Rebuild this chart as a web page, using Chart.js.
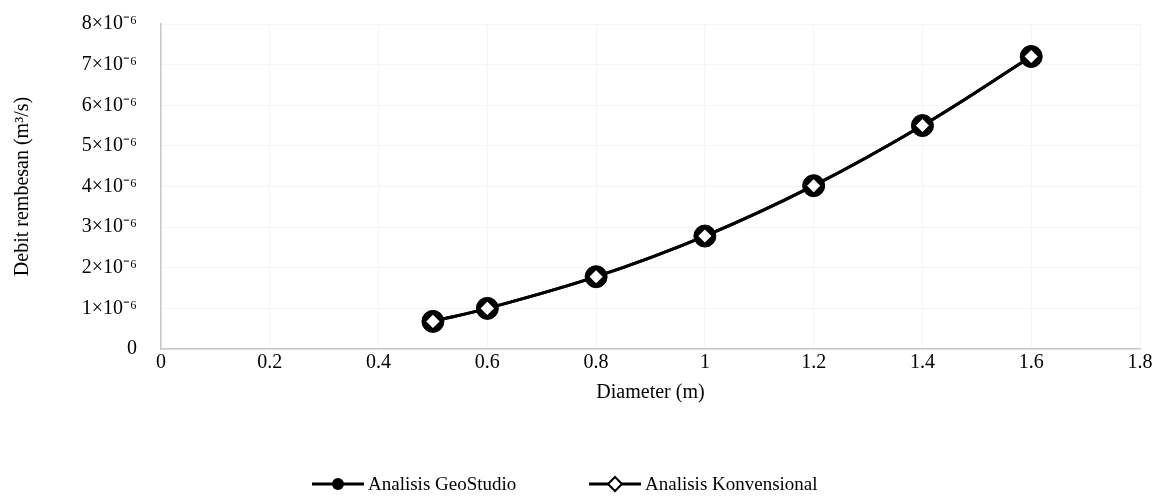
<!DOCTYPE html>
<html>
<head>
<meta charset="utf-8">
<script src="https://cdn.jsdelivr.net/npm/chart.js@4/dist/chart.umd.min.js"></script>
<style>
  html, body { margin: 0; padding: 0; background: #fff; }
  #wrap { width: 1156px; height: 497px; }
</style>
</head>
<body>
<div id="wrap"><canvas id="seepageChart" width="1156" height="497"></canvas></div>
<script>
// data
const diameters = [0.5, 0.6, 0.8, 1.0, 1.2, 1.4, 1.6];
const geoStudio = [0.68e-6, 1.0e-6, 1.78e-6, 2.78e-6, 4.02e-6, 5.5e-6, 7.2e-6];
const konvensional = [0.68e-6, 1.0e-6, 1.78e-6, 2.78e-6, 4.02e-6, 5.5e-6, 7.2e-6];
const seriesNames = ['Analisis GeoStudio', 'Analisis Konvensional'];
const yTickLabels = ['0', '1×10⁻⁶', '2×10⁻⁶', '3×10⁻⁶', '4×10⁻⁶', '5×10⁻⁶', '6×10⁻⁶', '7×10⁻⁶', '8×10⁻⁶'];

const fontFamily = '"Liberation Serif", "Times New Roman", serif';
const fontSize = 20;
const toPoints = (xs, ys) => xs.map((x, i) => ({ x: x, y: ys[i] }));

// legend: line + marker + text, like the spreadsheet one
const lineLegend = {
    id: 'lineLegend',
    afterDraw(chart) {
        const c = chart.ctx;
        const y = 484;
        const items = [
            { x: 312, ds: chart.data.datasets[0] },
            { x: 589, ds: chart.data.datasets[1] }
        ];
        c.save();
        c.font = (fontSize - 1) + 'px ' + fontFamily;
        c.textBaseline = 'middle';
        items.forEach(it => {
            c.strokeStyle = '#000';
            c.lineWidth = 3;
            c.beginPath();
            c.moveTo(it.x, y);
            c.lineTo(it.x + 52, y);
            c.stroke();
            const mx = it.x + 26;
            if (it.ds.pointStyle === 'rectRot') {
                c.fillStyle = '#fff';
                c.lineWidth = 2;
                c.beginPath();
                c.moveTo(mx, y - 7);
                c.lineTo(mx + 7, y);
                c.lineTo(mx, y + 7);
                c.lineTo(mx - 7, y);
                c.closePath();
                c.fill();
                c.stroke();
            } else {
                c.fillStyle = '#000';
                c.beginPath();
                c.arc(mx, y, 6, 0, Math.PI * 2);
                c.fill();
            }
            c.fillStyle = '#000';
            c.textAlign = 'left';
            c.fillText(it.ds.label, it.x + 56, y + 1);
        });
        c.restore();
    }
};

const ctx = document.getElementById('seepageChart').getContext('2d');
const seepageChart = new Chart(ctx, {
    type: 'scatter',
    data: {
        datasets: [{
            label: seriesNames[0],
            data: toPoints(diameters, geoStudio),
            showLine: true,
            borderColor: '#000',
            borderWidth: 3,
            tension: 0.4,
            pointStyle: 'circle',
            pointRadius: 11,
            pointBackgroundColor: '#000',
            pointBorderColor: '#000',
            pointBorderWidth: 1,
            order: 1
        }, {
            label: seriesNames[1],
            data: toPoints(diameters, konvensional),
            showLine: true,
            borderColor: '#000',
            borderWidth: 3,
            tension: 0.4,
            pointStyle: 'rectRot',
            pointRadius: 8,
            pointBackgroundColor: '#fff',
            pointBorderColor: '#000',
            pointBorderWidth: 2,
            order: 0
        }]
    },
    options: {
        responsive: false,
        animation: false,
        layout: { autoPadding: false, padding: { top: 24, right: 16, bottom: 92, left: 0 } },
        plugins: {
            legend: { display: false },
            tooltip: { enabled: false }
        },
        scales: {
            x: {
                type: 'linear',
                min: 0,
                max: 1.8,
                afterFit: s => { s.height = 56; },
                ticks: {
                    stepSize: 0.2,
                    padding: 2,
                    color: '#000',
                    font: { family: fontFamily, size: fontSize },
                    callback: v => String(Math.round(v * 10) / 10)
                },
                grid: { color: '#f5f5f5', drawTicks: false },
                border: { color: '#c8c8c8', width: 1.5 },
                title: {
                    display: true,
                    text: 'Diameter (m)',
                    color: '#000',
                    font: { family: fontFamily, size: fontSize },
                    padding: { top: 0, bottom: 0 }
                }
            },
            y: {
                min: 0,
                max: 8e-6,
                afterFit: s => { s.width = 161; s.paddingTop = 0; s.paddingBottom = 0; },
                ticks: {
                    stepSize: 1e-6,
                    padding: 24,
                    color: '#000',
                    font: { family: fontFamily, size: fontSize },
                    callback: (v, i) => yTickLabels[i]
                },
                grid: { color: '#f5f5f5', drawTicks: false },
                border: { color: '#c8c8c8', width: 1.5 },
                title: {
                    display: true,
                    text: 'Debit rembesan (m³/s)',
                    color: '#000',
                    font: { family: fontFamily, size: fontSize },
                    padding: { top: 11, bottom: 0 }
                }
            }
        }
    },
    plugins: [lineLegend]
});
</script>
</body>
</html>
